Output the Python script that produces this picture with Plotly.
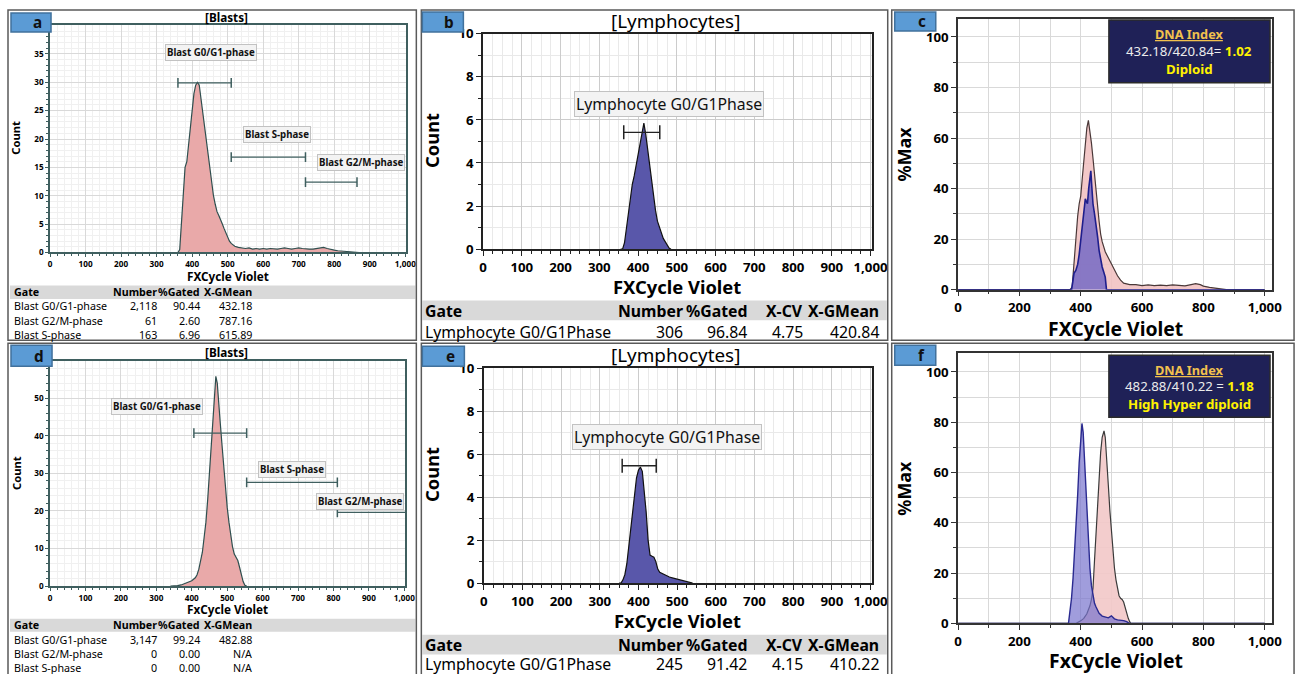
import plotly.graph_objects as go

# Figure size and placement constants calibrated from earlier renders
W, H = 1316, 690
OX, OY = 4.0, 8.0        # where the figure origin lands in the photograph
SX, SY = 0.984, 0.976    # apparent scale of the figure in the photograph
FS = 1.02                # font compensation for that scale
FONT = "Noto Sans"

# ---------------- data ----------------
# panel a : Blasts (case 1), count histogram
blast1_x = [355, 360, 365, 370, 375, 380, 385, 390, 395, 400, 405, 410, 415, 420, 425, 430, 435, 440,
            445, 450, 455, 460, 465, 470, 475, 480, 485, 490, 495, 500, 505, 510, 515, 520,
            530, 540, 550, 560, 570, 580, 590, 600, 610, 620, 630, 640, 650, 660, 670, 680, 690, 700,
            710, 720, 730, 740, 750, 760, 770, 780, 790, 800, 810, 820, 830, 840, 850, 860, 870]
blast1_y = [0, 0, 0.5, 6, 11, 15, 16, 19, 23, 26, 28, 29.5, 30, 29.5, 27, 25, 22, 19,
            16.5, 14, 12, 10, 8.5, 7.2, 6.5, 5.6, 5, 4.2, 3.4, 2.7, 2, 1.6, 1.3, 1.1,
            0.9, 0.8, 0.7, 0.8, 0.6, 0.7, 0.6, 0.7, 0.6, 0.7, 0.6, 0.6, 0.7, 0.8, 0.7, 0.6, 0.7, 0.8,
            0.7, 0.6, 0.6, 0.6, 0.7, 0.9, 0.9, 0.7, 0.5, 0.4, 0.3, 0.25, 0.2, 0.15, 0.1, 0.05, 0]

# panel b : Lymphocytes (case 1)
lymph1_x = [355, 360, 365, 370, 375, 380, 385, 390, 395, 400, 405, 410, 415, 420, 425, 430, 435, 440,
            445, 450, 455, 460, 465, 470, 475, 480, 485]
lymph1_y = [0, 0, 0.3, 1.0, 1.6, 2.4, 3.0, 3.4, 3.9, 4.3, 4.9, 5.5, 5.85, 5.3, 4.6, 3.7, 3.0, 2.4,
            1.8, 1.3, 1.0, 0.7, 0.5, 0.35, 0.2, 0.05, 0]

# panel c : overlay %Max
c_blast_x = [0, 365, 372, 380, 385, 390, 395, 400, 405, 410, 415, 420, 425, 430, 435, 440, 445, 450,
             455, 460, 465, 470, 480, 490, 500, 510, 520, 530, 540, 560, 580, 600, 620, 640, 660, 680,
             700, 720, 740, 760, 775, 790, 800, 820, 840, 860, 875, 1000]
c_blast_y = [0, 0, 1, 15, 21, 29, 34, 37, 44, 50, 58, 64, 67, 63, 58, 52, 45, 38,
             32, 27, 22, 19, 15, 12.5, 10.3, 7.5, 5.5, 3.8, 2.6, 2.0, 2.0, 1.6, 1.9, 1.6, 1.8, 1.6,
             1.9, 1.7, 1.5, 2.0, 2.4, 2.0, 1.4, 0.9, 0.5, 0.2, 0, 0]
c_lymph_x = [0, 370, 374, 378, 384, 390, 395, 400, 405, 410, 415, 418, 422, 426, 430, 433, 436, 440,
             445, 450, 455, 460, 465, 470, 475, 480, 484, 1000]
c_lymph_y = [0, 0, 3, 6.5, 7.6, 10, 14, 19.5, 25, 31, 36, 35, 34, 40, 44, 47, 41, 34,
             30, 26, 21, 15.5, 12, 9, 7, 5, 0, 0]

# panel d : Blasts (case 2)
blast2_x = [340, 350, 360, 370, 380, 390, 400, 410, 415, 420, 425, 430, 435, 440, 445, 450, 455, 460,
            465, 468, 472, 476, 480, 485, 490, 495, 500, 505, 510, 515, 520, 525, 530, 535, 540, 545,
            550, 555]
blast2_y = [0, 0, 0.1, 0.3, 0.6, 0.9, 1.4, 2.2, 3.0, 4.5, 6.5, 9, 13, 17, 23, 30, 37, 45,
            52, 55.8, 54, 50, 44, 38, 32, 26, 21, 17, 13.5, 10.5, 8.5, 7.6, 6.8, 5.0, 3.0, 1.2,
            0.2, 0]

# panel e : Lymphocytes (case 2)
lymph2_x = [350, 355, 360, 365, 370, 375, 380, 385, 390, 395, 400, 405, 410, 415, 420, 425, 430, 435,
            440, 445, 450, 455, 460, 470, 480, 490, 500, 510, 520, 530, 540]
lymph2_y = [0, 0, 0.15, 0.4, 0.9, 1.7, 2.6, 3.5, 4.3, 4.9, 5.25, 5.4, 5.2, 4.4, 3.3, 2.0, 1.3, 1.25,
            1.2, 1.0, 0.65, 0.5, 0.45, 0.35, 0.28, 0.23, 0.19, 0.14, 0.1, 0.05, 0]

# panel f : overlay %Max
f_lymph_x = [0, 360, 365, 370, 375, 380, 385, 390, 395, 400, 404, 408, 412, 416, 420, 425, 430, 435,
             440, 445, 450, 460, 470, 480, 490, 500, 510, 520, 530, 540, 550, 558, 1000]
f_lymph_y = [0, 0, 5, 10, 18, 28, 39, 51, 64, 74, 79.5, 76, 66, 56, 44, 31, 22, 15,
             11, 8, 6.5, 4, 2.9, 2.4, 2.2, 3.0, 1.8, 1.4, 1.3, 1.1, 0.7, 0, 0]
f_blast_x = [0, 385, 400, 410, 420, 430, 435, 440, 445, 450, 455, 460, 465, 470, 476, 480, 485, 490,
             495, 500, 505, 510, 515, 520, 525, 530, 535, 540, 545, 550, 555, 560, 563, 1000]
f_blast_y = [0, 0, 1, 2, 3.8, 7, 9.5, 14, 25, 36, 46, 58, 68, 74, 76.5, 74, 66, 55,
             45, 36, 28, 22, 17.3, 13.5, 11, 10, 9.5, 8.5, 6, 4, 2, 0.6, 0, 0]

# gates
blast_gate_names = ["Blast G0/G1-phase", "Blast S-phase", "Blast G2/M-phase"]
gate1_lo = [360, 510, 719]
gate1_hi = [510, 719, 864]
gate1_lvl = [29.9, 16.8, 12.4]
gate2_lo = [406, 555, 811]
gate2_hi = [555, 811, 1010]
gate2_lvl = [40.7, 27.6, 19.6]
lymph_gate_name = "Lymphocyte G0/G1Phase"
lgate1_lo, lgate1_hi, lgate1_lvl = [363], [456], [5.42]
lgate2_lo, lgate2_hi, lgate2_lvl = [358], [446], [5.46]

# statistics tables
blast_cols = ["Gate", "Number", "%Gated", "X-GMean"]
blast1_rows = [["Blast G0/G1-phase", "2,118", "90.44", "432.18"],
               ["Blast G2/M-phase", "61", "2.60", "787.16"],
               ["Blast S-phase", "163", "6.96", "615.89"]]
blast2_rows = [["Blast G0/G1-phase", "3,147", "99.24", "482.88"],
               ["Blast G2/M-phase", "0", "0.00", "N/A"],
               ["Blast S-phase", "0", "0.00", "N/A"]]
lymph_cols = ["Gate", "Number", "%Gated", "X-CV", "X-GMean"]
lymph1_rows = [["Lymphocyte G0/G1Phase", "306", "96.84", "4.75", "420.84"]]
lymph2_rows = [["Lymphocyte G0/G1Phase", "245", "91.42", "4.15", "410.22"]]

dna1 = ["432.18/420.84= ", "1.02", "Diploid"]
dna2 = ["482.88/410.22 = ", "1.18", "High Hyper diploid"]

# ---------------- helpers ----------------
fig = go.Figure()
axes = {}
ann = []
shapes = []


def PX(p):
    return (p - OX) / SX / W


def PY(p):
    f = max((p - OY) / SY, 0.8)
    return 1 - f / H


def ref(i, k):
    return k + ("" if i == 1 else str(i))


def axname(i, k):
    return k + "axis" + ("" if i == 1 else str(i))


def axstyle(lc, ts, tl, grid, mgrid, dtick, mdtick, fmt=None, mtl=2):
    d = dict(showline=True, mirror=True, linecolor=lc, linewidth=1.5, zeroline=False,
             ticks="outside", ticklen=tl, tickcolor=lc, tickwidth=1, tick0=0, dtick=dtick,
             tickfont=dict(family=FONT, size=ts * FS, color="#000", weight="bold"),
             showgrid=True, gridcolor=grid, gridwidth=1,
             minor=dict(dtick=mdtick, tick0=0, showgrid=True, gridcolor=mgrid, ticks="outside",
                        ticklen=mtl, tickcolor=lc),
             fixedrange=True)
    if fmt:
        d["tickformat"] = fmt
    return d


def set_axes(i, xpx, ypx, xr, yr, xkw, ykw):
    axes[axname(i, "x")] = dict(domain=[PX(xpx[0]), PX(xpx[1])], range=xr, anchor=ref(i, "y"), **xkw)
    axes[axname(i, "y")] = dict(domain=[PY(ypx[1]), PY(ypx[0])], range=yr, anchor=ref(i, "x"), **ykw)


def text(xp, yp, s, size, bold=False, color="#000", xanchor="center", angle=0):
    ann.append(dict(x=PX(xp), y=PY(yp), xref="paper", yref="paper", text=s, showarrow=False,
                    xanchor=xanchor, yanchor="middle", textangle=angle,
                    font=dict(family=FONT, size=size * FS, color=color,
                              weight="bold" if bold else "normal")))


def rect(x0, y0, x1, y1, fill=None, line="#555", lw=1.5, layer="above"):
    shapes.append(dict(type="rect", xref="paper", yref="paper", x0=PX(x0), x1=PX(x1),
                       y0=PY(y1), y1=PY(y0), fillcolor=fill or "rgba(0,0,0,0)",
                       line=dict(color=line if line else "rgba(0,0,0,0)", width=lw if line else 0),
                       layer=layer))


def hist(i, x, y, fill, line, lw=1.2):
    fig.add_trace(go.Scatter(x=x, y=y, mode="lines", fill="tozeroy", fillcolor=fill,
                             line=dict(color=line, width=lw), xaxis=ref(i, "x"), yaxis=ref(i, "y"),
                             hoverinfo="skip"))


def gates(i, lo, hi, lvl, color, size=8):
    for a, b, l in zip(lo, hi, lvl):
        fig.add_trace(go.Scatter(x=[a, b], y=[l, l], mode="lines+markers",
                                 line=dict(color=color, width=1.4),
                                 marker=dict(symbol="line-ns-open", size=size,
                                             line=dict(width=1.5, color=color)),
                                 xaxis=ref(i, "x"), yaxis=ref(i, "y"), hoverinfo="skip"))


def gate_label(i, xv, yv, s, size, bold):
    ann.append(dict(x=xv, y=yv, xref=ref(i, "x"), yref=ref(i, "y"), text=s, showarrow=False,
                    font=dict(family=FONT, size=size * FS, color="#111",
                              weight="bold" if bold else "normal"),
                    bgcolor="#f3f3f3", bordercolor="#c2c2c2", borderwidth=1, borderpad=1))


def table(cols, rows, x_gate, col_right, y_head, y_rows, size):
    text(x_gate, y_head, cols[0], size, bold=True, xanchor="left")
    for c, xr in zip(cols[1:], col_right):
        text(xr, y_head, c, size, bold=True, xanchor="right")
    for row, yr in zip(rows, y_rows):
        text(x_gate, yr, row[0], size, xanchor="left")
        for v, xr in zip(row[1:], col_right):
            text(xr, yr, v, size, xanchor="right")


def letter_box(x0, y0, x1, y1, xl, s):
    rect(x0, y0, x1, y1, fill="#5b9bd5", line="#41719c", lw=1.5)
    text(xl, (y0 + y1) / 2, s, 15, bold=True, color="#111")


def dna_box(y0, y1, ys, vals):
    rect(1108, y0, 1269, y1, fill="#1f2157", line="#2b2b2b", lw=1.5)
    text(1188.5, ys[0], "<u>DNA Index</u>", 12.5, bold=True, color="#f2c14e")
    ann.append(dict(x=PX(1188.5), y=PY(ys[1]), xref="paper", yref="paper", showarrow=False,
                    text=vals[0] + "<b><span style='color:#fff200'>" + vals[1] + "</span></b>",
                    font=dict(family=FONT, size=13 * FS, color="#ececec"),
                    xanchor="center", yanchor="middle"))
    text(1188.5, ys[2], vals[2], 13, bold=True, color="#fff200")


# ---------------- axes ----------------
TEAL = "#3f5f5f"
sa_x = axstyle(TEAL, 8, 3, "#d9d9d9", "#f0f0f0", 100, 20, ",")
set_axes(1, (50, 405.7), (24, 252), [0, 1002], [0, 40.1], sa_x,
         axstyle(TEAL, 8, 3, "#d9d9d9", "#f0f0f0", 5, 1))
set_axes(4, (50, 404.7), (360.3, 586.3), [0, 1002], [0, 60], sa_x,
         axstyle(TEAL, 8, 3, "#d9d9d9", "#f0f0f0", 10, 2))
sb_x = axstyle("#222", 13, 5, "#cccccc", "#e9e9e9", 100, 25, ",", 3)
sb_y = axstyle("#222", 13, 5, "#cccccc", "#e9e9e9", 2, 1, None, 3)
set_axes(2, (482.7, 871), (32.7, 248.7), [0, 1003], [0, 10], sb_x, sb_y)
set_axes(5, (483.3, 871), (368, 583.3), [0, 1003], [0, 10], sb_x, sb_y)
sc_x = axstyle("#333", 13, 5, "#d9d9d9", "#d9d9d9", 200, 100, ",", 3)
sc_y = axstyle("#333", 13, 5, "#d9d9d9", "#d9d9d9", 20, 10, None, 3)
set_axes(3, (957.3, 1270.7), (18.3, 289.3), [0, 1023], [0, 107], sc_x, sc_y)
set_axes(6, (957.3, 1270.7), (353, 623.7), [0, 1023], [0, 107.4], sc_x, sc_y)

# ---------------- traces ----------------
hist(1, blast1_x, blast1_y, "#e9a9a9", "#2f4f4f")
hist(4, blast2_x, blast2_y, "#e9a9a9", "#2f4f4f")
hist(2, lymph1_x, lymph1_y, "#5957aa", "#111111")
hist(5, lymph2_x, lymph2_y, "#5957aa", "#111111")
hist(3, c_blast_x, c_blast_y, "rgba(240,190,190,0.85)", "#4a3838", 1.2)
hist(3, c_lymph_x, c_lymph_y, "rgba(118,106,196,0.85)", "#1e1e8c", 1.6)
hist(6, f_blast_x, f_blast_y, "rgba(242,200,200,0.9)", "#3a3a3a", 1.2)
hist(6, f_lymph_x, f_lymph_y, "rgba(120,115,205,0.7)", "#2a2a90", 1.4)

gates(1, gate1_lo, gate1_hi, gate1_lvl, TEAL, 7)
gates(4, gate2_lo, gate2_hi, gate2_lvl, TEAL, 7)
gates(2, lgate1_lo, lgate1_hi, lgate1_lvl, "#222", 10)
gates(5, lgate2_lo, lgate2_hi, lgate2_lvl, "#222", 10)

# gate labels
for (xv, yv), s in zip([(453, 35.2), (638, 20.8), (876, 15.8)], blast_gate_names):
    gate_label(1, xv, yv, s, 9.5, True)
for (xv, yv), s in zip([(301, 47.8), (683, 30.9), (875, 22.4)], blast_gate_names):
    gate_label(4, xv, yv, s, 9.5, True)
gate_label(2, 479, 6.72, lymph_gate_name, 15.5, False)
gate_label(5, 474, 6.78, lymph_gate_name, 15.5, False)

# ---------------- frames, titles, tables ----------------
rect(8, 9, 416, 340, line="#5a5a5a", lw=1.5)
rect(421, 9, 887, 340, line="#5a5a5a", lw=1.5)
rect(891, 9, 1293, 340, line="#5a5a5a", lw=1.5)
rect(8, 343, 416, 700, line="#5a5a5a", lw=1.5)
rect(421, 343, 887, 700, line="#5a5a5a", lw=1.5)
rect(891, 343, 1293, 700, line="#5a5a5a", lw=1.5)

# table header bands
rect(10, 285, 415, 298.5, fill="#d9d9d9", line=None, layer="below")
rect(10, 619, 415, 632, fill="#d9d9d9", line=None, layer="below")
rect(422, 300, 886, 320, fill="#d9d9d9", line=None, layer="below")
rect(422, 635, 886, 655, fill="#d9d9d9", line=None, layer="below")

letter_box(11, 12, 51, 31, 37, "a")
letter_box(422, 11, 463, 31, 449, "b")
letter_box(894, 11, 935, 30, 921, "c")
letter_box(11, 345, 52, 366, 39, "d")
letter_box(422, 346, 464, 366, 450, "e")
letter_box(894, 345, 935, 365, 921, "f")

text(226.7, 15.7, "[Blasts]", 11.5, bold=True)
text(226.7, 352, "[Blasts]", 11.5, bold=True)
text(675, 20, "[Lymphocytes]", 18.5)
text(675, 354.7, "[Lymphocytes]", 18.5)

text(227.7, 275.7, "FXCycle Violet", 11.5, bold=True)
text(227.7, 609.7, "FxCycle Violet", 11.5, bold=True)
text(16, 137, "Count", 11, bold=True, angle=-90)
text(16, 473, "Count", 11, bold=True, angle=-90)
text(676.7, 286, "FXCycle Violet", 18, bold=True)
text(676.7, 620.7, "FxCycle Violet", 18, bold=True)
text(431, 140, "Count", 18, bold=True, angle=-90)
text(431, 474.7, "Count", 18, bold=True, angle=-90)
text(1114.7, 328.3, "FXCycle Violet", 19, bold=True)
text(1114.7, 661, "FxCycle Violet", 19, bold=True)
text(903, 153, "%Max", 17.5, bold=True, angle=-90)
text(903, 488, "%Max", 17.5, bold=True, angle=-90)

table(blast_cols, blast1_rows, 12, [158.5, 202, 254], 292, [306, 320.5, 334.5], 10.5)
table(blast_cols, blast2_rows, 12, [158.5, 202, 254], 625.5, [640, 654, 668], 10.5)
table(lymph_cols, lymph1_rows, 423, [684, 748.5, 804.5, 880], 310.5, [331.5], 15.5)
table(lymph_cols, lymph2_rows, 423, [684, 748.5, 804.5, 880], 645, [664.5], 15.5)

dna_box(19, 82, [33.3, 50, 68], dna1)
dna_box(355, 417, [369.7, 386.3, 404], dna2)

fig.update_layout(width=W, height=H, margin=dict(l=0, r=0, t=0, b=0),
                  paper_bgcolor="white", plot_bgcolor="white", showlegend=False,
                  font=dict(family=FONT), annotations=ann, shapes=shapes, **axes)
fig.write_html(
    "out.html",
    config={"displayModeBar": False},
    post_script=("document.body.style.margin='0';"
                 "document.body.style.overflow='hidden';"
                 "document.documentElement.style.overflow='hidden';"),
)
